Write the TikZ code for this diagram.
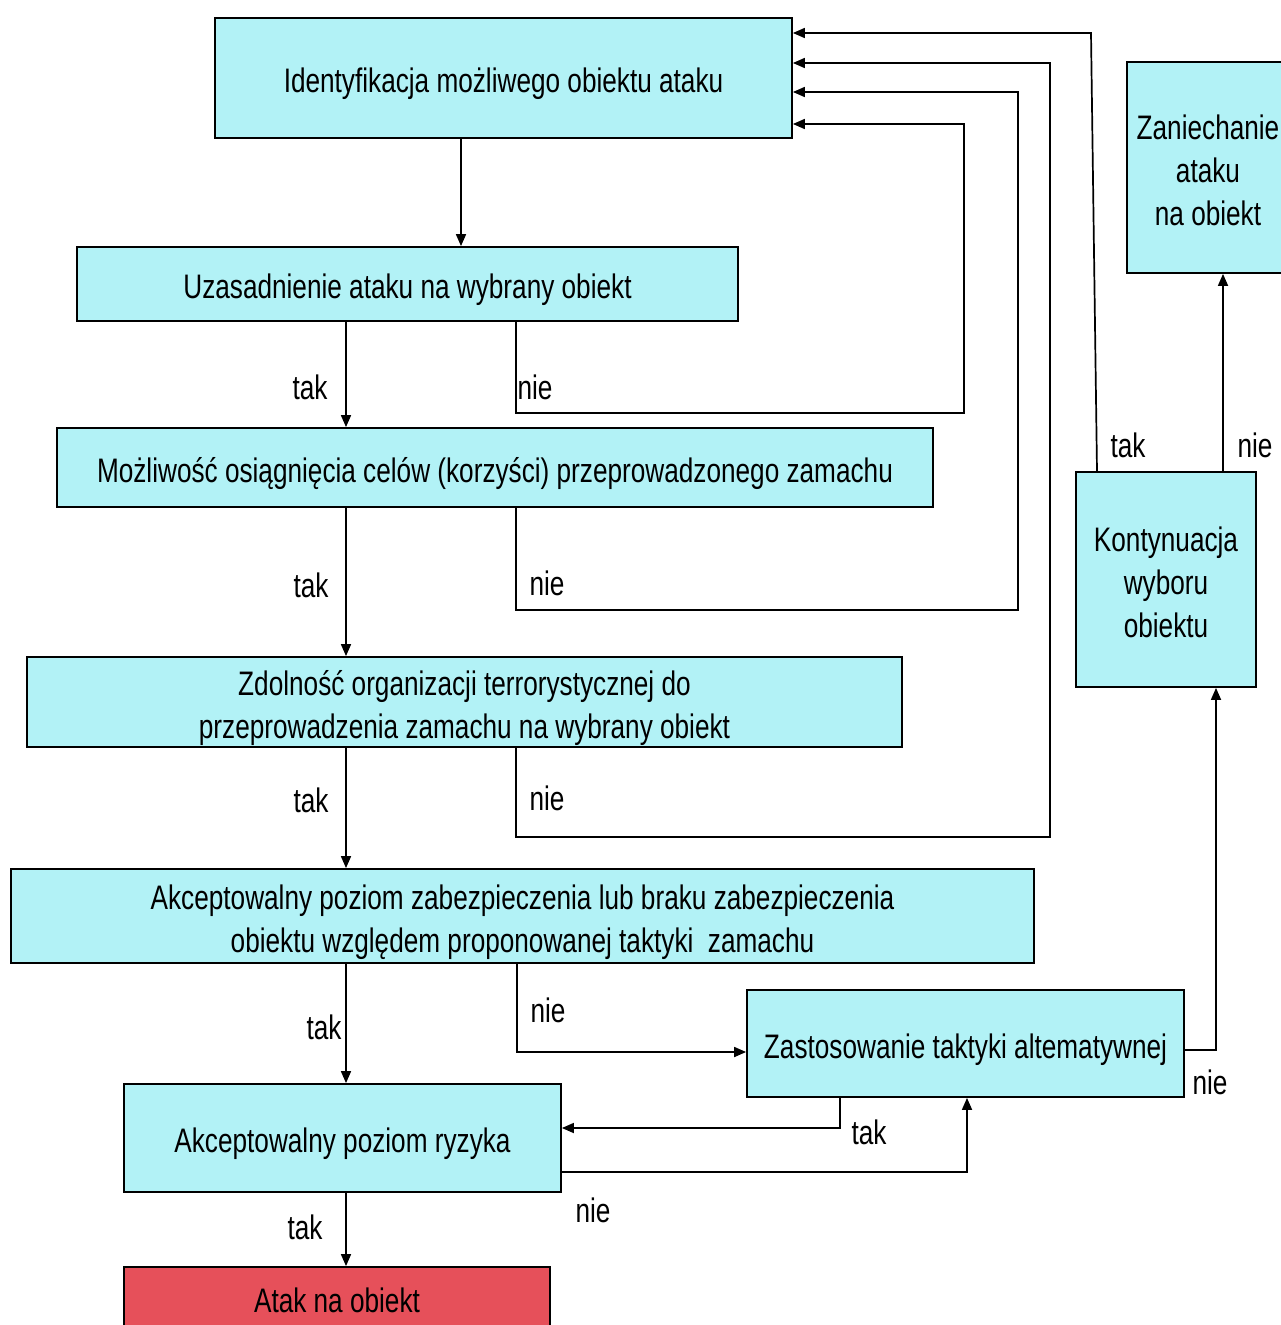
\documentclass[tikz,border=0pt]{standalone}
\usepackage{fontspec}
\setmainfont{Liberation Sans}[FakeStretch=0.77]
\usetikzlibrary{arrows.meta}
\definecolor{boxcyan}{RGB}{178,242,246}
\definecolor{boxred}{RGB}{230,80,90}
% centred block of lines, sitting slightly below the middle of its box
\newcommand\boxlines[1]{\raisebox{-12.5pt}[0pt][0pt]{\begin{tabular}{@{}c@{}}#1\end{tabular}}}
\begin{document}
\begin{tikzpicture}[x=1pt,y=-1pt,
  box/.style={draw=black, line width=1.8pt, fill=boxcyan, rectangle, inner sep=0pt,
              align=center, font=\fontsize{34}{43}\selectfont},
  arr/.style={-{Triangle[length=12pt,width=10pt]}, line width=1.7pt},
  lbl/.style={font=\fontsize{34}{43}\selectfont, inner sep=0pt}]

\useasboundingbox (0,0) rectangle (1281,1325);
\fill[white] (0,0) rectangle (1281,1325);

% decision boxes
\node[box, minimum width=577pt, minimum height=120pt] (ident) at (503.5,78)
  {\boxlines{Identyfikacja możliwego obiektu ataku}};
\node[box, minimum width=661pt, minimum height=74pt] (uzas) at (407.5,284)
  {\boxlines{Uzasadnienie ataku na wybrany obiekt}};
\node[box, minimum width=876pt, minimum height=79pt] (cele) at (495,467.5)
  {\boxlines{Możliwość osiągnięcia celów (korzyści) przeprowadzonego zamachu}};
\node[box, minimum width=875pt, minimum height=90pt] (zdol) at (464.5,702)
  {\boxlines{Zdolność organizacji terrorystycznej do\\przeprowadzenia zamachu na wybrany obiekt}};
\node[box, minimum width=1023pt, minimum height=94pt] (zabez) at (522.5,916)
  {\boxlines{Akceptowalny poziom zabezpieczenia lub braku zabezpieczenia\\obiektu względem proponowanej taktyki\ \ zamachu}};
\node[box, minimum width=437pt, minimum height=107pt] (zast) at (965.5,1043.5)
  {\boxlines{Zastosowanie taktyki altematywnej}};
\node[box, minimum width=437pt, minimum height=108pt] (ryz) at (342.5,1138)
  {\boxlines{Akceptowalny poziom ryzyka}};
\node[box, fill=boxred, minimum width=426pt, minimum height=61pt] (atak) at (337,1297.5)
  {\boxlines{Atak na obiekt}};
\node[box, minimum width=162pt, minimum height=211pt] (zan) at (1208,167.5)
  {\boxlines{Zaniechanie\\ataku\\na obiekt}};
\node[box, minimum width=180pt, minimum height=215pt] (kont) at (1166,579.5)
  {\boxlines{Kontynuacja\\wyboru\\obiektu}};

% columns and rows used by the connectors
\coordinate (cA) at (461,0);
\coordinate (cB) at (346,0);
\coordinate (cN) at (516,0);
\coordinate (r1) at (964,413);
\coordinate (r2) at (1018,610);
\coordinate (r3) at (1050,837);
\coordinate (r4) at (1091,33);
\coordinate (k4) at (1097,0);
\coordinate (q1) at (0,124);
\coordinate (q2) at (0,92);
\coordinate (q3) at (0,63);
\coordinate (cZ) at (1223,0);
\coordinate (cK) at (1216,1050);
\coordinate (nz) at (517,1052);
\coordinate (tz) at (840,1128);
\coordinate (rz) at (967,1172);

% main "tak" chain
\draw[arr] (ident.south -| cA) -- (uzas.north -| cA);
\draw[arr] (uzas.south -| cB) -- (cele.north -| cB);
\draw[arr] (cele.south -| cB) -- (zdol.north -| cB);
\draw[arr] (zdol.south -| cB) -- (zabez.north -| cB);
\draw[arr] (zabez.south -| cB) -- (ryz.north -| cB);
\draw[arr] (ryz.south -| cB) -- (atak.north -| cB);

% "nie" loops back to the first box
\draw[arr] (uzas.south -| cN) |- (r1) |- (ident.east |- q1);
\draw[arr] (cele.south -| cN) |- (r2) |- (ident.east |- q2);
\draw[arr] (zdol.south -| cN) |- (r3) |- (ident.east |- q3);
\draw[arr] (kont.north -| k4) -- (r4) -- (ident.east |- r4);
\draw[arr] (kont.north -| cZ) -- (zan.south -| cZ);

% lower part
\draw[arr] (zabez.south -| nz) |- (zast.west |- nz);
\draw[arr] (zast.east |- cK) -- (cK) -- (kont.south -| cK);
\draw[arr] (zast.south -| tz) |- (ryz.east |- tz);
\draw[arr] (ryz.east |- rz) -| (zast.south -| rz);

% labels
\node[lbl] (t1) at (310,387) {tak};
\node[lbl] (n1) at (535,387) {nie};
\node[lbl] (t2) at (311,585) {tak};
\node[lbl] (n2) at (547,583) {nie};
\node[lbl] (t3) at (311,800) {tak};
\node[lbl] (n3) at (547,798) {nie};
\node[lbl] (t4) at (324,1027) {tak};
\node[lbl] (n4) at (548,1010) {nie};
\node[lbl] (n5) at (1210,1082) {nie};
\node[lbl] (t5) at (869,1132) {tak};
\node[lbl] (n6) at (593,1210) {nie};
\node[lbl] (t6) at (305,1227) {tak};
\node[lbl] (t7) at (1128,445) {tak};
\node[lbl] (n7) at (1255,445) {nie};
\end{tikzpicture}
\end{document}
